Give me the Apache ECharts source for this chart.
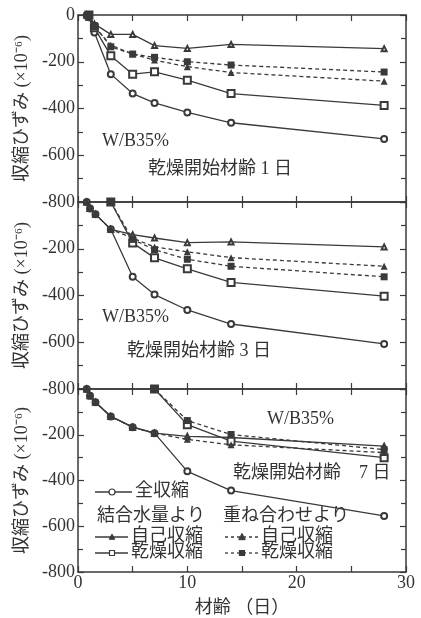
<!DOCTYPE html>
<html><head><meta charset="utf-8">
<script src="https://cdn.jsdelivr.net/npm/echarts@6/dist/echarts.min.js"></script>
<style>html,body{margin:0;padding:0;background:#fff;}#c{width:421px;height:618px;}</style>
</head><body><div id="c"></div>
<script>
// ---- data (age in days, shrinkage strain ×10^-6) ----
// Panel 1: drying from age 1 day
const p1Total    = [[0.8,0],[1,-10],[1.5,-75],[3,-253],[5,-336],[7,-376],[10,-417],[14,-461],[28,-530]];
const p1AutoBW   = [[0.8,0],[1,-10],[1.5,-38],[3,-83],[5,-83],[7,-131],[10,-143],[14,-126],[28,-144]];
const p1DryBW    = [[1,0],[1.5,-55],[3,-174],[5,-253],[7,-243],[10,-279],[14,-336],[28,-387]];
const p1AutoSup  = [[0.8,0],[1,-10],[1.5,-50],[3,-129],[5,-167],[7,-193],[10,-221],[14,-246],[28,-283]];
const p1DrySup   = [[1,0],[1.5,-45],[3,-136],[5,-167],[7,-181],[10,-200],[14,-214],[28,-244]];
// Panel 2: drying from age 3 days
const p2Total    = [[0.8,0],[1.1,-28],[1.6,-52],[3,-117],[5,-320],[7,-396],[10,-462],[14,-522],[28,-607]];
const p2AutoBW   = [[0.8,0],[1.1,-28],[1.6,-52],[3,-117],[5,-140],[7,-154],[10,-174],[14,-171],[28,-192]];
const p2DryBW    = [[3,0],[5,-175],[7,-239],[10,-286],[14,-344],[28,-403]];
const p2AutoSup  = [[0.8,0],[1.1,-28],[1.6,-52],[3,-117],[5,-155],[7,-192],[10,-213],[14,-238],[28,-275]];
const p2DrySup   = [[3,0],[5,-160],[7,-204],[10,-245],[14,-275],[28,-320]];
// Panel 3: drying from age 7 days
const p3Total    = [[0.8,0],[1.1,-29],[1.6,-58],[3,-120],[5,-167],[7,-193],[10,-360],[14,-444],[28,-555]];
const p3AutoBW   = [[0.8,0],[1.1,-29],[1.6,-58],[3,-120],[5,-167],[7,-193],[10,-207],[14,-212],[28,-250]];
const p3DryBW    = [[7,0],[10,-156],[14,-228],[28,-300]];
const p3AutoSup  = [[0.8,0],[1.1,-29],[1.6,-58],[3,-120],[5,-167],[7,-193],[10,-220],[14,-244],[28,-278]];
const p3DrySup   = [[7,0],[10,-138],[14,-199],[28,-265]];
const panels = [
  {total:p1Total, autoBW:p1AutoBW, dryBW:p1DryBW, autoSup:p1AutoSup, drySup:p1DrySup},
  {total:p2Total, autoBW:p2AutoBW, dryBW:p2DryBW, autoSup:p2AutoSup, drySup:p2DrySup},
  {total:p3Total, autoBW:p3AutoBW, dryBW:p3DryBW, autoSup:p3AutoSup, drySup:p3DrySup}
];
const yTicks = [0,-200,-400,-600,-800];
const xTickLabels = [0,10,20,30];

// ---- chart ----
const INK = '#3a3a3a';
const FONT = "'Liberation Serif','Noto Sans CJK JP',serif";
const chart = echarts.init(document.getElementById('c'), null, {renderer:'canvas'});
const grids = [
  {left:78, right:15, top:15, height:187},
  {left:78, right:15, top:202, height:187},
  {left:78, right:15, top:389, height:186}
];
const xAxis = [], yAxis = [], series = [];
const lineAx = {onZero:false, lineStyle:{color:INK, width:1.5}};
grids.forEach((g,i)=>{
  xAxis.push({type:'value', gridIndex:i, min:0, max:30, interval:5, position:'bottom',
    axisLine:lineAx, axisTick:{inside:true, length:6, lineStyle:{color:INK,width:1.2}},
    splitLine:{show:false},
    axisLabel:{show:i===2, margin:2, fontSize:18, fontFamily:FONT, color:'#333',
      formatter:v=> xTickLabels.indexOf(v)>=0 ? String(v) : ''},
    name: i===2 ? '材齢 （日）' : '', nameLocation:'middle', nameGap:27,
    nameTextStyle:{fontSize:18, fontFamily:FONT, color:'#333'}});
  xAxis.push({type:'value', gridIndex:i, min:0, max:30, interval:5, position:'top',
    axisLine:lineAx, axisTick:{inside:true, length:6, lineStyle:{color:INK,width:1.2}},
    splitLine:{show:false}, axisLabel:{show:false}});
  yAxis.push({type:'value', gridIndex:i, min:-800, max:0, interval:200, position:'left',
    axisLine:lineAx, axisTick:{inside:true, length:6, lineStyle:{color:INK,width:1.2}},
    minorTick:{show:true, splitNumber:2, length:5, lineStyle:{color:INK,width:1.2}},
    splitLine:{show:false}, minorSplitLine:{show:false},
    axisLabel:{margin:3, fontSize:18, fontFamily:FONT, color:'#333', showMaxLabel:i===0,
      formatter:v=> yTicks.indexOf(v)>=0 ? String(v) : ''},
    name:'収縮ひずみ (×10⁻⁶)', nameLocation:'middle', nameRotate:90, nameGap:45,
    nameTextStyle:{fontSize:18, fontFamily:FONT, color:'#333'}});
  yAxis.push({type:'value', gridIndex:i, min:-800, max:0, interval:200, position:'right',
    axisLine:lineAx, axisTick:{inside:true, length:6, lineStyle:{color:INK,width:1.2}},
    minorTick:{show:true, splitNumber:2, length:5, lineStyle:{color:INK,width:1.2}},
    splitLine:{show:false}, axisLabel:{show:false}});
  const p = panels[i];
  const base = {type:'line', xAxisIndex:2*i, yAxisIndex:2*i, animation:false,
    color:INK, itemStyle:{color:INK}, z:3};
  series.push(Object.assign({}, base, {name:'全収縮', data:p.total, symbol:'emptyCircle', symbolSize:6,
    lineStyle:{color:INK, width:1.3}}));
  series.push(Object.assign({}, base, {name:'自己収縮(結合水量)', data:p.autoBW, symbol:'emptyTriangle', symbolSize:5,
    lineStyle:{color:INK, width:1.3}}));
  series.push(Object.assign({}, base, {name:'乾燥収縮(結合水量)', data:p.dryBW, symbol:'emptyRect', symbolSize:7,
    lineStyle:{color:INK, width:1.3}}));
  series.push(Object.assign({}, base, {name:'自己収縮(重ね合わせ)', data:p.autoSup, symbol:'triangle', symbolSize:7,
    lineStyle:{color:INK, width:1.3, type:[4,3]}}));
  series.push(Object.assign({}, base, {name:'乾燥収縮(重ね合わせ)', data:p.drySup, symbol:'rect', symbolSize:7,
    lineStyle:{color:INK, width:1.3, type:[4,3]}}));
});

// ---- legend & annotations (graphic) ----
const g = [];
const txt = (t,x,y)=>g.push({type:'text', left:x, top:y-10, z:10,
  style:{text:t, fontSize:18, fontFamily:FONT, fill:'#333'}});
const seg = (x1,x2,y,dash)=>g.push({type:'line', z:10,
  shape:{x1:x1,y1:y,x2:x2,y2:y}, style:{stroke:INK, lineWidth:1.3, lineDash:dash?[3,3]:null}});
const tri = (cx,cy,s,fill)=>g.push({type:'polygon', z:11,
  shape:{points:[[cx,cy-s*0.6],[cx+s*0.55,cy+s*0.45],[cx-s*0.55,cy+s*0.45]]},
  style:{fill:fill?INK:'#fff', stroke:INK, lineWidth:1}});
const sq = (cx,cy,s,fill)=>g.push({type:'rect', z:11,
  shape:{x:cx-s/2,y:cy-s/2,width:s,height:s}, style:{fill:fill?INK:'#fff', stroke:INK, lineWidth:1.2}});
const circ = (cx,cy,r)=>g.push({type:'circle', z:11,
  shape:{cx:cx,cy:cy,r:r}, style:{fill:'#fff', stroke:INK, lineWidth:1.2}});

txt('W/B35%',102,142); txt('乾燥開始材齢 1 日',148,170);
txt('W/B35%',102,318); txt('乾燥開始材齢 3 日',127,352);
txt('W/B35%',267,420); txt('乾燥開始材齢　7 日',233,474);
// legend
seg(95,132,492,false); circ(112,492,3); txt('全収縮',135,492);
txt('結合水量より',97,517); txt('重ね合わせより',223,517);
seg(95,128,537,false); tri(112,537,5,true); txt('自己収縮',131,537);
seg(95,128,553,false); sq(112,553,5,false); txt('乾燥収縮',131,553);
seg(225,258,537,true); tri(242,537,6,true); txt('自己収縮',261,537);
seg(225,258,553,true); sq(242,553,5,true); txt('乾燥収縮',261,553);

chart.setOption({
  backgroundColor:'#fff',
  grid:grids, xAxis:xAxis, yAxis:yAxis, series:series,
  graphic:g
});
</script></body></html>
